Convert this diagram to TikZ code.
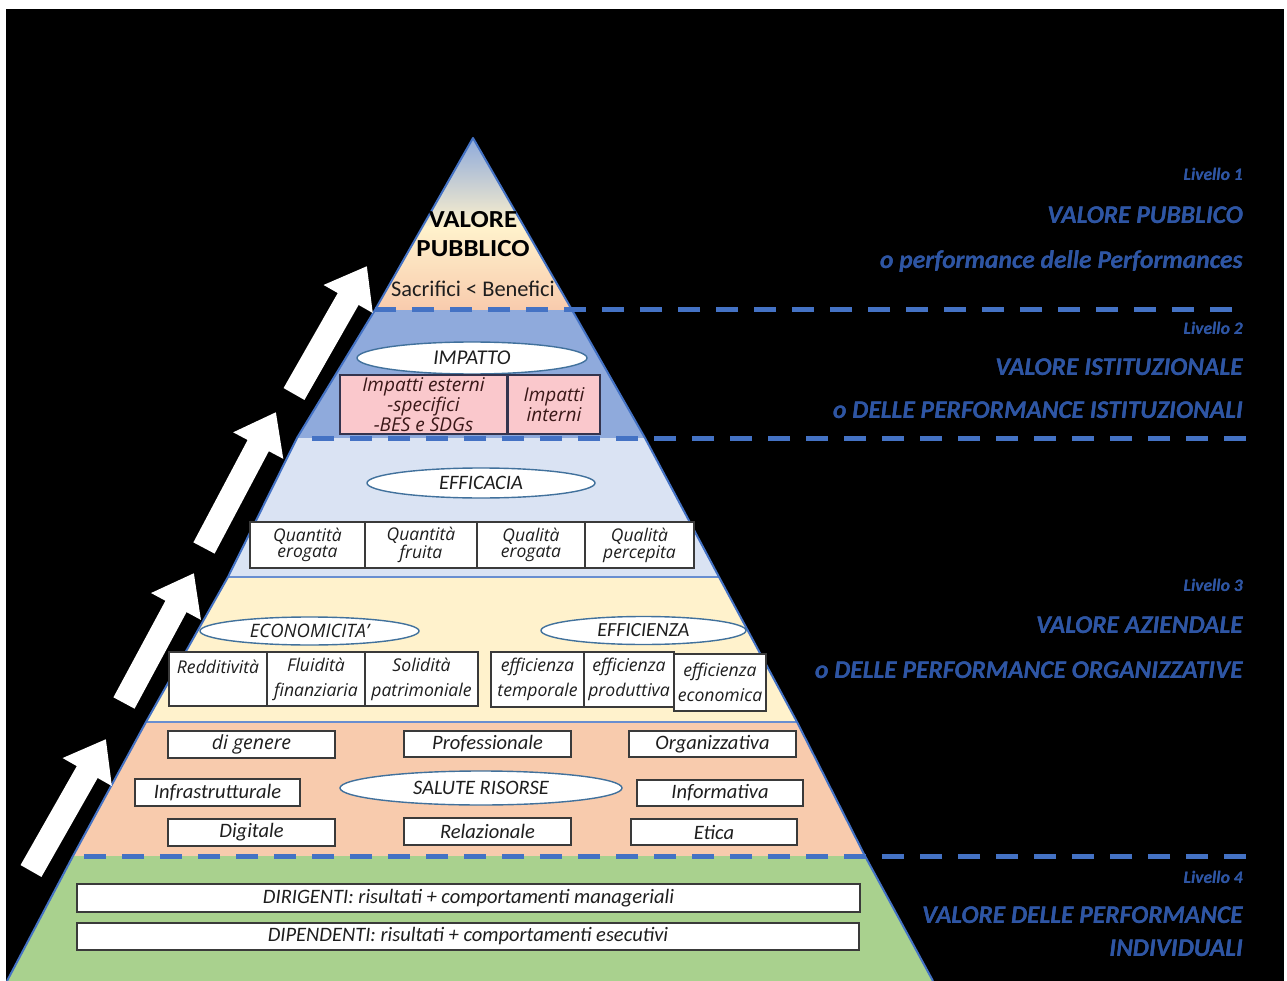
\documentclass[tikz,border=0pt]{standalone}
\usepackage{fontspec}
\usepackage[outline]{contour}
\contourlength{1.2pt}
\setmainfont{Carlito}
\newfontfamily\widefont{Open Sans}
\newfontfamily\stretchfont[FakeStretch=1.1]{Carlito}
\usetikzlibrary{arrows.meta,shapes.geometric}
\definecolor{pyrblue}{HTML}{4472C4}
\definecolor{lay2}{HTML}{8FAADC}
\definecolor{lay3a}{HTML}{DAE3F3}
\definecolor{lay3b}{HTML}{FFF2CC}
\definecolor{lay3c}{HTML}{F8CBAD}
\definecolor{lay4}{HTML}{A9D18E}
\definecolor{topblue}{HTML}{8EAADB}
\definecolor{pinkbox}{HTML}{FAC8CC}
\definecolor{pinktext}{HTML}{3A1818}
\definecolor{boxgray}{HTML}{3A3A3A}
\definecolor{boxtext}{HTML}{1E1E1E}
\definecolor{ovalblue}{HTML}{41719C}
\definecolor{lblblue}{HTML}{2E55A3}
\newcommand\heavy[1]{\contour{lblblue}{#1}}
\tikzset{
  box/.style={draw=boxgray, fill=white, line width=1.3pt, inner sep=0pt, align=center, text=boxtext, font=\itshape\fontsize{20.5}{20}\selectfont},
  wbox/.style={box, font=\widefont\itshape\fontsize{17.5}{15.5}\selectfont},
  box3/.style={box, font=\widefont\itshape\fontsize{17.6}{25}\selectfont},
  pbox/.style={box, fill=pinkbox, draw=boxgray!90!blue, text=pinktext, font=\widefont\itshape\fontsize{19}{16}\selectfont},
  oval/.style={ellipse, draw=ovalblue, fill=white, line width=1.4pt, inner sep=0pt, text=boxtext, font=\itshape\fontsize{20.5}{22}\selectfont},
  lbl/.style={anchor=east, inner sep=0pt, text=lblblue, font=\bfseries\itshape\fontsize{25.5}{30}\selectfont},
  lvl/.style={anchor=east, inner sep=0pt, text=lblblue, font=\bfseries\itshape\fontsize{17.5}{20}\selectfont},
  dashline/.style={draw=pyrblue, line width=5pt, dash pattern=on 22pt off 16pt},
  uparrow/.style={draw=white, line width=24pt, -{Triangle[length=38pt,width=54pt]}},
}
\begin{document}
\begin{tikzpicture}[x=1pt,y=-1pt]
\useasboundingbox (0,0) rectangle (1287,981);
\fill[white] (0,0) rectangle (1287,981);
\fill[black] (6,9) rectangle (1284,981);
% pyramid outline points
\coordinate (apex) at (473,138);
\coordinate (L1) at (375,310); \coordinate (R1) at (572,310);
\coordinate (L2) at (297,438); \coordinate (R2) at (645,438);
\coordinate (L3) at (228,577); \coordinate (R3) at (719,577);
\coordinate (L4) at (146,722); \coordinate (R4) at (797,722);
\coordinate (L5) at (73,856);  \coordinate (R5) at (865,856);
\coordinate (bl) at (7,981);   \coordinate (br) at (933,981);
\begin{scope}
\clip (apex) -- (R1) -- (R2) -- (R3) -- (R4) -- (R5) -- (br) -- (bl) -- (L5) -- (L4) -- (L3) -- (L2) -- (L1) -- cycle;
\shade[top color=topblue, bottom color=lay3b] (0,138) rectangle (1287,228);
\shade[top color=lay3b, bottom color=lay3c] (0,227) rectangle (1287,310);
\fill[lay2] (0,310) rectangle (1287,438);
\fill[lay3a] (0,438) rectangle (1287,577);
\fill[lay3b] (0,577) rectangle (1287,722);
\fill[lay3c] (0,722) rectangle (1287,856);
\fill[lay4] (0,856) rectangle (1287,981);
\draw[pyrblue!80, line width=1.5pt] (0,577) -- (1287,577);
\draw[pyrblue!80, line width=1.5pt] (0,722) -- (1287,722);
\end{scope}
\draw[pyrblue, line width=2pt, line join=round] (bl) -- (L5) -- (L4) -- (L3) -- (L2) -- (L1) -- (apex) -- (R1) -- (R2) -- (R3) -- (R4) -- (R5) -- (br);
% dashed level lines (drawn from the right end)
\coordinate (d1b) at (1232,310);
\coordinate (d2b) at (1246,438);
\coordinate (d3b) at (1246,856);
\draw[dashline] (d1b) -- (L1);
\draw[dashline] (d2b) -- (L2);
\draw[dashline] (d3b) -- (L5);
% arrows
\coordinate (a1s) at (31,871); \coordinate (a1e) at (106,739);
\coordinate (a2s) at (124,703); \coordinate (a2e) at (194,573);
\coordinate (a3s) at (204,548); \coordinate (a3e) at (276,412);
\coordinate (a4s) at (294,394); \coordinate (a4e) at (367,266);
\draw[uparrow] (a1s) -- (a1e);
\draw[uparrow] (a2s) -- (a2e);
\draw[uparrow] (a3s) -- (a3e);
\draw[uparrow] (a4s) -- (a4e);
% level 1
\node[font=\stretchfont\bfseries\fontsize{24.5}{29}\selectfont, align=center, text=black] (vp) at (473,234) {VALORE\\PUBBLICO};
\node[font=\fontsize{22.4}{24}\selectfont, text=boxtext] (sb) at (473,289) {Sacrifici < Benefici};
% level 2
\node[oval, minimum width=230pt, minimum height=32pt, font=\itshape\fontsize{21}{22}\selectfont] (imp) at (472,358) {IMPATTO};
\node[pbox, minimum width=167pt, minimum height=59pt] (ie) at (423.5,404.5) {Impatti esterni\\-specifici\\-BES e SDGs};
\node[pbox, minimum width=92pt, minimum height=59pt] (ii) at (554,404.5) {Impatti\\interni};
% efficacia
\node[oval, minimum width=228pt, minimum height=30pt] (eff) at (481,483) {EFFICACIA};
\node[wbox, minimum width=115pt, minimum height=46pt] (qe) at (307.5,545) {Quantità\\erogata};
\node[wbox, minimum width=112pt, minimum height=46pt] (qf) at (421,545) {Quantità\\fruita};
\node[wbox, minimum width=108pt, minimum height=46pt] (qle) at (531,545) {Qualità\\erogata};
\node[wbox, minimum width=109pt, minimum height=46pt] (qlp) at (639.5,545) {Qualità\\percepita};
% economicita / efficienza
\node[oval, minimum width=219pt, minimum height=28pt, font=\widefont\itshape\fontsize{18.5}{22}\selectfont] (eco) at (309.5,631) {ECONOMICITA’};
\node[oval, minimum width=205pt, minimum height=28pt, font=\itshape\fontsize{20}{22}\selectfont] (effz) at (643.5,630.5) {EFFICIENZA};
\node[box3, minimum width=98pt, minimum height=54pt] (red) at (218,679) {Redditività\\\mbox{}};
\node[box3, minimum width=98pt, minimum height=54pt] (flu) at (316,679) {Fluidità\\finanziaria};
\node[box3, minimum width=113pt, minimum height=54pt] (sol) at (421.5,679) {Solidità\\patrimoniale};
\node[box3, minimum width=93pt, minimum height=55pt] (et) at (537.5,679.5) {efficienza\\temporale};
\node[box3, minimum width=90pt, minimum height=55pt] (ep) at (629,679.5) {efficienza\\produttiva};
\node[box3, minimum width=92pt, minimum height=57pt] (ee) at (720,682.5) {efficienza\\economica};
% salute risorse
\node[box, minimum width=167pt, minimum height=27pt, font=\widefont\itshape\fontsize{19.5}{20}\selectfont] (gen) at (251.5,744.5) {di genere};
\node[box, minimum width=167pt, minimum height=26pt] (pro) at (487.5,744) {Professionale};
\node[box, minimum width=167pt, minimum height=26pt] (org) at (712.5,744) {Organizzativa};
\node[box, minimum width=165pt, minimum height=27pt] (inf) at (217.5,792.5) {Infrastrutturale};
\node[oval, minimum width=282pt, minimum height=34pt] (sal) at (481,788) {SALUTE RISORSE};
\node[box, minimum width=166pt, minimum height=26pt] (infm) at (720,793) {Informativa};
\node[box, minimum width=167pt, minimum height=27pt] (dig) at (251.5,832.5) {Digitale};
\node[box, minimum width=167pt, minimum height=27pt] (rel) at (487.5,831.5) {Relazionale};
\node[box, minimum width=166pt, minimum height=26pt] (eti) at (714,832) {Etica};
% level 4
\node[box, minimum width=783pt, minimum height=28pt] (dir) at (468.5,898) {DIRIGENTI: risultati + comportamenti manageriali};
\node[box, minimum width=782pt, minimum height=27pt] (dip) at (468,936.5) {DIPENDENTI: risultati + comportamenti esecutivi};
% right labels
\node[lvl] (l1) at (1243,174) {\heavy{Livello 1}};
\node[lbl] (l1a) at (1243,215) {\heavy{VALORE PUBBLICO}};
\node[lbl] (l1b) at (1243,262) {\heavy{o performance delle Performances}};
\node[lvl] (l2) at (1243,328) {\heavy{Livello 2}};
\node[lbl] (l2a) at (1243,367) {\heavy{VALORE ISTITUZIONALE}};
\node[lbl] (l2b) at (1243,410) {\heavy{o DELLE PERFORMANCE ISTITUZIONALI}};
\node[lvl] (l3) at (1243,585) {\heavy{Livello 3}};
\node[lbl] (l3a) at (1243,625) {\heavy{VALORE AZIENDALE}};
\node[lbl] (l3b) at (1243,670) {\heavy{o DELLE PERFORMANCE ORGANIZZATIVE}};
\node[lvl] (l4) at (1243,877) {\heavy{Livello 4}};
\node[lbl] (l4a) at (1243,915) {\heavy{VALORE DELLE PERFORMANCE}};
\node[lbl] (l4b) at (1243,948) {\heavy{INDIVIDUALI}};
\end{tikzpicture}
\end{document}
